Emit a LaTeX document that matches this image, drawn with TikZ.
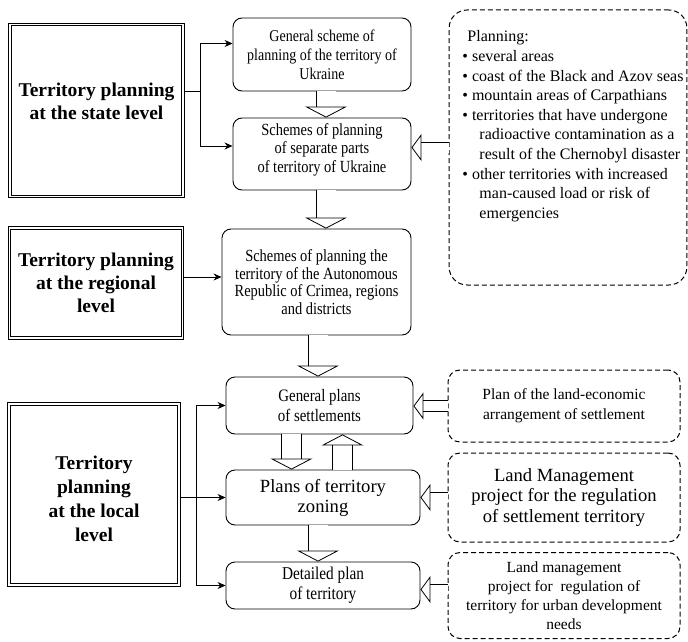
\documentclass[tikz,border=0pt]{standalone}
\usepackage{fontspec}
\setmainfont{Liberation Serif}
\newfontfamily\narrowfont[FakeStretch=0.85]{Liberation Serif}
\usetikzlibrary{arrows.meta}

\begin{document}
\begin{tikzpicture}
  [x=1pt,y=-1pt,
   level/.style={draw,double,double distance=1.6pt,line width=1pt,
     inner sep=2pt,align=center,font=\bfseries\fontsize{19.5}{23}\selectfont},
   plan/.style={draw,rounded corners=9pt,line width=0.9pt,align=center,
     font=\narrowfont\fontsize{17}{17.8}\selectfont},
   extra/.style={draw,dash pattern=on 5pt off 3pt,rounded corners=12pt,
     line width=1pt,align=center,font=\fontsize{15.5}{20}\selectfont},
   arr/.style={-{Stealth[length=8pt,width=7pt]},line width=0.8pt},
   hollow/.style={double,double distance=19pt,line width=0.8pt,
     -{Triangle[open,length=11pt,width=42pt]}},
   side/.style={double,double distance=10pt,line width=0.8pt,
     -{Triangle[open,length=10pt,width=27pt]}}]
  \useasboundingbox (0,0) rectangle (688,642);

  % levels
  \node[level,minimum width=173pt,minimum height=172pt,text depth=18pt]
    (state) at (96.5,110.5) {Territory planning\\at the state level};
  \node[level,minimum width=173pt,minimum height=110pt] (regional) at (96,283)
    {Territory planning\\at the regional\\level};
  \node[level,minimum width=170pt,minimum height=181pt,
    font=\bfseries\fontsize{19.5}{24}\selectfont] (local) at (94,494.5)
    {\rule{0pt}{22pt}Territory\\planning\\at the local\\level};

  % planning documents
  \node[plan,minimum width=178pt,minimum height=73pt,
    font=\narrowfont\fontsize{16.5}{19}\selectfont] (genscheme) at (322,54.5)
    {General scheme of\\planning of the territory of\\Ukraine};
  \node[plan,minimum width=178pt,minimum height=72pt,text depth=12pt,
    font=\narrowfont\fontsize{17}{18.5}\selectfont] (parts) at (322,154)
    {Schemes of planning\\of separate parts\\of territory of Ukraine};
  \node[plan,minimum width=189pt,minimum height=106pt] (crimea) at (316.5,282)
    {Schemes of planning the\\territory of the Autonomous\\Republic of Crimea, regions\\and districts};
  \node[plan,minimum width=187pt,minimum height=57pt,
    font=\narrowfont\fontsize{17.5}{20}\selectfont] (genplans) at (319.5,405.5)
    {General plans\\of settlements};
  \node[plan,minimum width=194pt,minimum height=55pt,
    font=\fontsize{18.6}{20}\selectfont] (zoning) at (323,497.5)
    {Plans of territory\\zoning};
  \node[plan,minimum width=194pt,minimum height=47pt,
    font=\narrowfont\fontsize{18}{20}\selectfont] (detailed) at (323,585.5)
    {Detailed plan\\of territory};

  % land management documents
  \node[extra,rounded corners=18pt,minimum width=236pt,minimum height=275pt,
    align=left,text depth=46pt,font=\fontsize{16}{19.6}\selectfont]
    (planning) at (568,147.5)
    {\hspace*{15pt}Planning:\\
     \hspace*{10pt}\textbullet{} several areas\\
     \hspace*{10pt}\textbullet{} coast of the Black and Azov seas\\
     \hspace*{10pt}\textbullet{} mountain areas of Carpathians\\
     \hspace*{10pt}\textbullet{} territories that have undergone\\
     \hspace*{27pt}radioactive contamination as a\\
     \hspace*{27pt}result of the Chernobyl disaster\\
     \hspace*{10pt}\textbullet{} other territories with increased\\
     \hspace*{27pt}man-caused load or risk of\\
     \hspace*{27pt}emergencies};
  \node[extra,minimum width=232pt,minimum height=72pt] (landecon) at (564,406)
    {Plan of the land-economic\\arrangement of settlement};
  \node[extra,minimum width=232pt,minimum height=89pt,
    font=\fontsize{18.6}{20.5}\selectfont] (landmgmt) at (564,497.5)
    {Land Management\\project for the regulation\\of settlement territory};
  \node[extra,minimum width=232pt,minimum height=86pt,
    font=\fontsize{15.5}{19}\selectfont] (urban) at (564,595.5)
    {Land management\\project for\ \ regulation of\\territory for urban development\\needs};

  % level connectors
  \draw[arr] ([yshift=19pt]state.east) -- ++(17,0) coordinate (sj)
    |- ([yshift=11pt]genscheme.west);
  \draw[arr] (sj) |- ([yshift=8pt]parts.west);
  \draw[arr] ([yshift=6pt]regional.east) -- ([yshift=6pt]regional.east -| crimea.west);
  \draw[arr] (local.east |- zoning.west) -- (zoning.west);
  \coordinate (lj) at ([xshift=17pt]local.east);
  \draw[arr] (lj) |- (genplans.west);
  \draw[arr] (lj) |- (detailed.west);

  % hollow arrows
  \draw[hollow] ([xshift=4pt]genscheme.south) -- ([xshift=4pt]parts.north);
  \draw[hollow] ([xshift=4pt]parts.south) -- ([xshift=4pt]parts.south |- crimea.north);
  \draw[hollow] ([xshift=1.5pt]crimea.south) -- ([xshift=1.5pt]crimea.south |- genplans.north);
  \draw[hollow] ([xshift=-28pt]genplans.south) -- ([xshift=-28pt]genplans.south |- zoning.north);
  \draw[hollow] ([xshift=23pt]genplans.south |- zoning.north) -- ([xshift=23pt]genplans.south);
  \draw[hollow] ([xshift=-5pt]zoning.south) -- ([xshift=-5pt]detailed.north);
  \draw[side] (planning.west) -- (planning.west -| parts.east);
  \draw[side] (landecon.west) -- (landecon.west -| genplans.east);
  \draw[side] (landmgmt.west) -- (landmgmt.west -| zoning.east);
  \draw[side] ([yshift=-4pt]detailed.east -| urban.west) -- ([yshift=-4pt]detailed.east);

\end{tikzpicture}
\end{document}
